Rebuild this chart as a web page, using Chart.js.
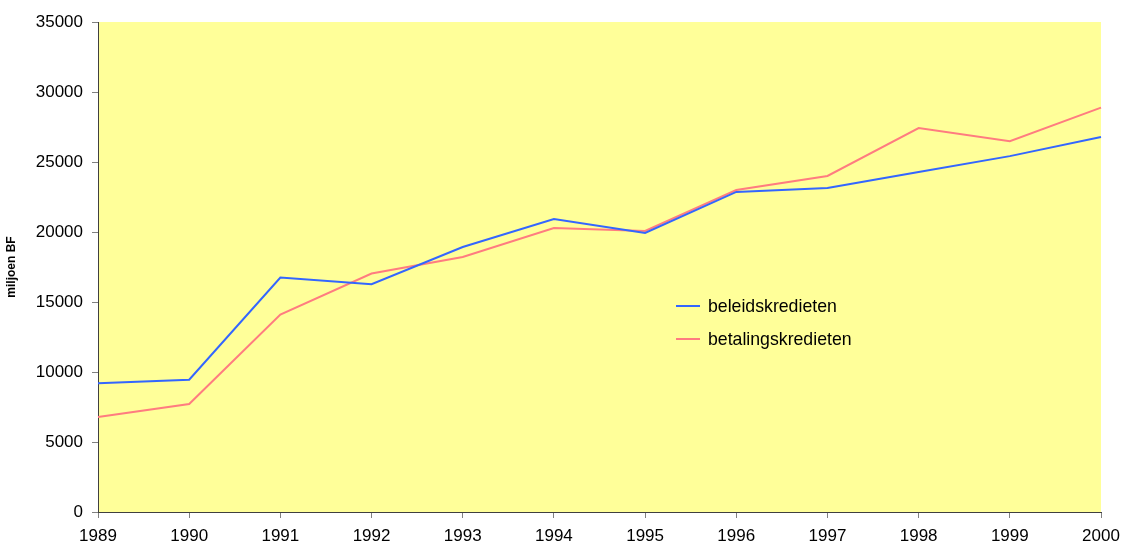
<!DOCTYPE html>
<html>
<head>
<meta charset="utf-8">
<script src="https://cdn.jsdelivr.net/npm/chart.js@4/dist/chart.umd.min.js"></script>
<style>
    body { margin: 0; background: #fff; }
</style>
</head>
<body>
<canvas id="myChart" width="1123" height="550"></canvas>
<script>
const years = ['1989', '1990', '1991', '1992', '1993', '1994', '1995', '1996', '1997', '1998', '1999', '2000']
const beleidskredieten = [9200, 9450, 16750, 16270, 18930, 20930, 19930, 22860, 23140, 24290, 25420, 26790]
const betalingskredieten = [6790, 7710, 14100, 17030, 18210, 20290, 20070, 23000, 24000, 27420, 26480, 28880]
const yTitle = 'miljoen BF'
const FONT = "'Liberation Sans', Arial, sans-serif"

// gele achtergrond van het plotgebied
const plotBackground = {
    id: 'plotBackground',
    beforeDraw(chart){
        const { ctx, chartArea } = chart
        ctx.save()
        ctx.fillStyle = '#FFFF99'
        ctx.fillRect(chartArea.left, chartArea.top, chartArea.right - chartArea.left, chartArea.bottom - chartArea.top)
        ctx.restore()
    }
}

// legende binnen het plotgebied
const innerLegend = {
    id: 'innerLegend',
    afterDraw(chart){
        const ctx = chart.ctx
        ctx.save()
        ctx.font = `17.7px ${FONT}`
        ctx.textBaseline = 'middle'
        chart.data.datasets.forEach((ds, i) => {
            const y = 306 + i * 33
            ctx.strokeStyle = ds.borderColor
            ctx.lineWidth = 2
            ctx.beginPath()
            ctx.moveTo(676, y)
            ctx.lineTo(700, y)
            ctx.stroke()
            ctx.fillStyle = '#000'
            ctx.fillText(ds.label, 708, y + 1)
        })
        ctx.restore()
    }
}

const ctx = document.getElementById('myChart')
new Chart(ctx, {
    type: 'line',
    data: {
        labels: years,
        datasets: [{
            label: 'beleidskredieten',
            data: beleidskredieten,
            borderColor: '#3366FF',
            borderWidth: 2,
            pointRadius: 0,
            tension: 0
        }, {
            label: 'betalingskredieten',
            data: betalingskredieten,
            borderColor: '#FF7C80',
            borderWidth: 2,
            pointRadius: 0,
            tension: 0
        }]
    },
    options: {
        responsive: false,
        animation: false,
        layout: {
            padding: { top: 22, right: 22, left: 0, bottom: 0 }
        },
        scales: {
            x: {
                offset: false,
                grid: { drawOnChartArea: false, color: '#808080', tickLength: 6 },
                border: { color: '#404040', width: 1 },
                ticks: { color: '#000', font: { family: FONT, size: 17 }, padding: 8, maxRotation: 0, autoSkip: false },
                afterFit(scale){
                    scale.height = 38
                    scale.paddingLeft = 0
                    scale.paddingRight = 0
                }
            },
            y: {
                min: 0,
                max: 35000,
                grid: { drawOnChartArea: false, color: '#808080', tickLength: 6 },
                border: { color: '#404040', width: 1 },
                ticks: { stepSize: 5000, color: '#000', font: { family: FONT, size: 17 }, padding: 9,
                    callback: value => String(value) },
                title: { display: true, text: yTitle, color: '#000', font: { family: FONT, size: 12, weight: 'bold' }, padding: { top: 4, bottom: 0 } },
                afterFit(scale){ scale.width = 98 }
            }
        },
        plugins: {
            legend: { display: false },
            tooltip: { enabled: false }
        }
    },
    plugins: [plotBackground, innerLegend]
})
</script>
</body>
</html>
